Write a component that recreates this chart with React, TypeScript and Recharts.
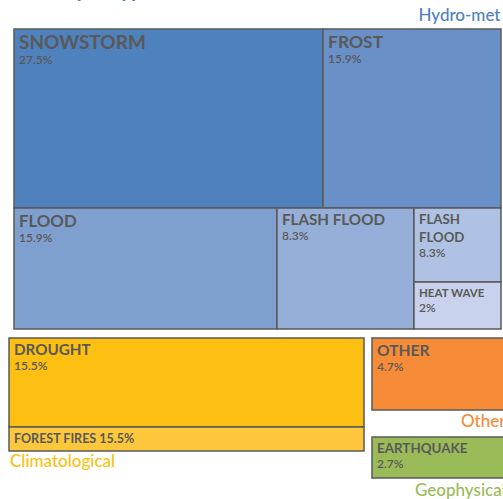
import { Treemap } from "recharts";

// Hazard cells. CELL_SHARE drives the area, CELL_TEXT is what the source prints
// (it repeats a couple of numbers, so the two don't always agree).
const CELL_NAMES = [
  "SNOWSTORM",
  "FROST",
  "FLOOD",
  "FLASH FLOOD",
  "FLASH FLOOD",
  "HEAT WAVE",
  "DROUGHT",
  "FOREST FIRES",
  "OTHER",
  "EARTHQUAKE",
];
const CELL_SHARE = [27.5, 15.9, 15.9, 8.3, 3.2, 2, 15.5, 4.4, 4.7, 2.7];
const CELL_TEXT = ["27.5%", "15.9%", "15.9%", "8.3%", "8.3%", "2%", "15.5%", "15.5%", "4.7%", "2.7%"];

const GROUP_NAMES = ["Hydro-met", "Climatological", "Other", "Geophysical"];
const TITLE = "Events per type";

// Styling, kept apart from the values.
const CELL_FILL = [
  "#4f81bd",
  "#6a90c8",
  "#7f9fcf",
  "#96afd9",
  "#b0c2e3",
  "#c9d2ec",
  "#fcbf12",
  "#fdc73c",
  "#f68c38",
  "#9bbb59",
];
const CELL_FONT = [19, 17.5, 16.8, 15.2, 13.2, 11.5, 15.2, 12.5, 15.6, 13.4];
const GROUP_COLOR = ["#4f81bd", "#fcbf12", "#f68c38", "#9bbb59"];
const INK = "#595959";
const FONT = "Lato, 'Open Sans', sans-serif";

// Each block is its own treemap; cells listed by index into the arrays above.
const BLOCKS = [
  { cells: [0, 1], left: 14, top: 29, width: 487, height: 179 },
  { cells: [2, 3, 4, 5], left: 14, top: 208, width: 487, height: 121 },
  { cells: [6], left: 9, top: 338, width: 355, height: 89 },
  { cells: [7], left: 9, top: 427, width: 355, height: 24 },
  { cells: [8], left: 372, top: 338, width: 136, height: 72 },
  { cells: [9], left: 372, top: 437, width: 136, height: 41 },
];

function renderCell(props: any) {
  const { x, y, width, height, depth, idx } = props;
  if (depth !== 1 || idx === undefined) return <g />;
  const fs = CELL_FONT[idx];
  const name = CELL_NAMES[idx];
  const pct = CELL_TEXT[idx];
  const tx = x + 5;
  const base = y + 6.5 + fs * 0.72;

  let lines = [name];
  if (name.length * fs * 0.66 > width - 8) lines = name.split(" ");
  const inline = height < 32;

  return (
    <g>
      <rect x={x} y={y} width={width} height={height} fill={CELL_FILL[idx]} stroke={INK} strokeWidth={1.5} />
      {inline ? (
        <text x={tx} y={base} fill={INK} fontFamily={FONT} fontWeight={700} fontSize={fs}>
          {name} {pct}
        </text>
      ) : (
        <>
          {lines.map((ln, i) => (
            <text key={i} x={tx} y={base + i * 18} fill={INK} fontFamily={FONT} fontWeight={700} fontSize={fs}>
              {ln}
            </text>
          ))}
          <text
            x={tx}
            y={base + (lines.length - 1) * 18 + 15}
            fill={INK}
            fontFamily={FONT}
            fontWeight={600}
            fontSize={12}
          >
            {pct}
          </text>
        </>
      )}
    </g>
  );
}

export default function App() {
  return (
    <div
      style={{
        position: "absolute",
        left: 0,
        top: 0,
        width: 503,
        height: 499,
        overflow: "hidden",
        background: "#fff",
        fontFamily: FONT,
      }}
    >
      <style>{`.recharts-surface{overflow:visible}`}</style>
      {BLOCKS.map((b, bi) => (
        <div key={bi} style={{ position: "absolute", left: b.left, top: b.top }}>
          <Treemap
            width={b.width}
            height={b.height}
            data={b.cells.map((i) => ({ name: CELL_NAMES[i], size: CELL_SHARE[i], idx: i }))}
            dataKey="size"
            nameKey="name"
            isAnimationActive={false}
            content={renderCell}
          />
        </div>
      ))}
      <svg width={503} height={499} style={{ position: "absolute", left: 0, top: 0, pointerEvents: "none" }}>
        <text x={9} y={-3} fill="#4f81bd" fontFamily={FONT} fontWeight={700} fontSize={21}>
          {TITLE}
        </text>
        <text x={500.5} y={20.5} textAnchor="end" fill={GROUP_COLOR[0]} fontFamily={FONT} fontWeight={500} fontSize={17}>
          {GROUP_NAMES[0]}
        </text>
        <text x={10} y={467} fill={GROUP_COLOR[1]} fontFamily={FONT} fontWeight={500} fontSize={17}>
          {GROUP_NAMES[1]}
        </text>
        <text x={461} y={427} fill={GROUP_COLOR[2]} fontFamily={FONT} fontWeight={500} fontSize={17}>
          {GROUP_NAMES[2]}
        </text>
        <text x={415} y={496} fill={GROUP_COLOR[3]} fontFamily={FONT} fontWeight={500} fontSize={17}>
          {GROUP_NAMES[3]}
        </text>
      </svg>
    </div>
  );
}
